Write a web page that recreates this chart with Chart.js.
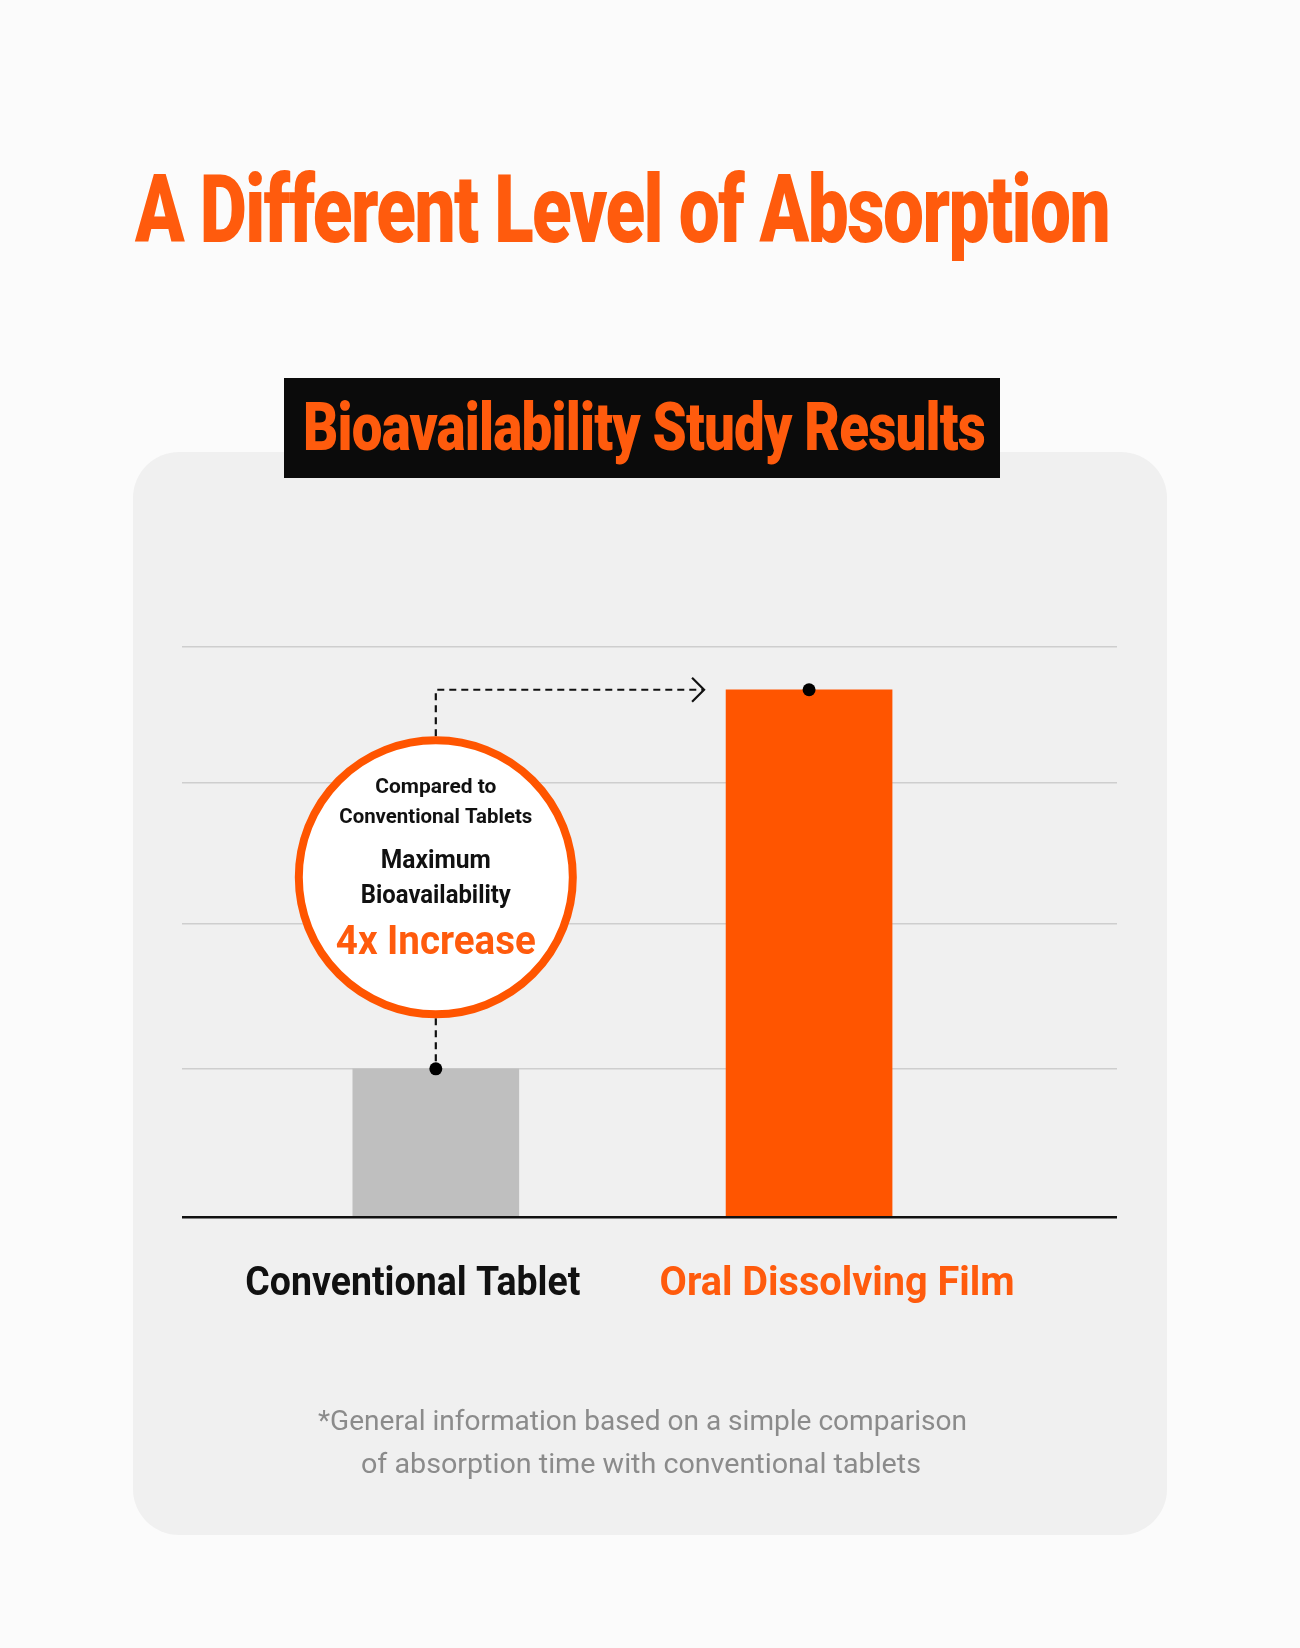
<!DOCTYPE html>
<html>
<head>
<meta charset="utf-8">
<script src="https://cdn.jsdelivr.net/npm/chart.js@4.4.1/dist/chart.umd.min.js"></script>
<style>
  html, body { margin: 0; padding: 0; }
  body { width: 1300px; height: 1648px; background: #fbfbfb; position: relative; overflow: hidden; font-family: Roboto, "Liberation Sans", sans-serif; }
  .card { position: absolute; left: 133px; top: 452px; width: 1034px; height: 1083px; background: #f0f0f0; border-radius: 46px; }
  #chartWrap { position: absolute; left: 133px; top: 452px; width: 1034px; height: 1083px; }
  .box { position: absolute; left: 284px; top: 378px; width: 716px; height: 100px; background: #0b0b0b; z-index: 2; }
  .txt { position: absolute; white-space: nowrap; transform-origin: 0 0; z-index: 3; }
</style>
</head>
<body>
<div class="card"></div>
<div id="chartWrap"><canvas id="chart" width="1034" height="1083"></canvas></div>
<div class="box"></div>
<script>
const pageTitle = "A Different Level of Absorption";
const boxTitle = "Bioavailability Study Results";
const categories = ["Conventional Tablet", "Oral Dissolving Film"];
const values = [1.04, 3.7];
// grid lines (slightly uneven)
const yTicks = [0, 1.04, 2.06, 3.05, 4];
const calloutLines = ["Compared to", "Conventional Tablets", "Maximum", "Bioavailability", "4x Increase"];
const footnoteLines = [
  "*General information based on a simple comparison",
  "of absorption time with conventional tablets",
];

const ORANGE = "#ff5500";
const TEXT_ORANGE = "#ff5b0d";

// html text, squeezed to a given width, placed by its baseline
const placeText = (text, o) => {
  const s = document.createElement("span");
  s.className = "txt";
  s.style.font = `${o.weight} ${o.size}px Roboto`;
  s.style.color = o.color;
  if (o.spacing) s.style.letterSpacing = o.spacing + "px";
  s.textContent = text;
  const probe = document.createElement("span");
  probe.style.cssText = "display:inline-block;width:0;height:0;vertical-align:baseline";
  s.appendChild(probe);
  s.style.left = "0px";
  s.style.top = "0px";
  document.body.appendChild(s);
  const w = s.getBoundingClientRect().width;
  const base = probe.getBoundingClientRect().top;
  s.style.left = o.center - o.width / 2 + "px";
  s.style.top = o.baseline - base + "px";
  s.style.transform = `scaleX(${o.width / w})`;
};

// canvas text, same idea
const drawFit = (ctx, text, cx, baseline, width, font, color) => {
  ctx.save();
  ctx.font = font;
  ctx.fillStyle = color;
  ctx.textAlign = "left";
  ctx.textBaseline = "alphabetic";
  const w = ctx.measureText(text).width;
  ctx.translate(cx - width / 2, baseline);
  ctx.scale(width / w, 1);
  ctx.fillText(text, 0, 0);
  ctx.restore();
};

const labelWidths = [335, 355];
const labelNudge = [-23, 28];
const labelColors = ["#111111", TEXT_ORANGE];

const categoryLabels = {
  id: "categoryLabels",
  afterDraw(chart) {
    const x = chart.scales.x;
    categories.forEach((c, i) => {
      drawFit(chart.ctx, c, x.getPixelForValue(i + 1) + labelNudge[i], chart.chartArea.bottom + 78,
        labelWidths[i], "bold 40px Roboto", labelColors[i]);
    });
  },
};

// circle callout with dashed connector and arrow
const callout = {
  id: "callout",
  afterDraw(chart) {
    const ctx = chart.ctx;
    const bars = chart.getDatasetMeta(0).data;
    const a = bars[0];
    const b = bars[1];
    const r = 137;
    const cx = a.x;
    const cy = (a.y + b.y) / 2 - 2;
    const tip = b.x - b.width / 2 - 22;

    ctx.save();
    ctx.strokeStyle = "#111";
    ctx.lineWidth = 2.2;
    ctx.setLineDash([7, 5]);
    ctx.beginPath();
    ctx.moveTo(cx, cy - r - 4);
    ctx.lineTo(cx, b.y);
    ctx.lineTo(tip, b.y);
    ctx.moveTo(cx, cy + r + 4);
    ctx.lineTo(cx, a.y);
    ctx.stroke();
    ctx.setLineDash([]);
    ctx.beginPath();
    ctx.moveTo(tip - 12, b.y - 12);
    ctx.lineTo(tip, b.y);
    ctx.lineTo(tip - 12, b.y + 12);
    ctx.stroke();

    ctx.beginPath();
    ctx.arc(cx, cy, r, 0, Math.PI * 2);
    ctx.fillStyle = "#ffffff";
    ctx.fill();
    ctx.lineWidth = 8;
    ctx.strokeStyle = ORANGE;
    ctx.stroke();

    ctx.fillStyle = "#000";
    [a, b].forEach((bar) => {
      ctx.beginPath();
      ctx.arc(bar.x, bar.y, 6.5, 0, Math.PI * 2);
      ctx.fill();
    });
    ctx.restore();

    const offs = [-84, -54, -9, 26, 77];
    const widths = [121, 193, 110, 150, 200];
    const fonts = ["bold 21px Roboto", "bold 21px Roboto", "bold 26px Roboto", "bold 26px Roboto", "bold 40px Roboto"];
    calloutLines.forEach((t, i) => {
      drawFit(ctx, t, cx, cy + offs[i], widths[i], fonts[i], i === 4 ? TEXT_ORANGE : "#111111");
    });
  },
};

document.addEventListener("DOMContentLoaded", () => {
  const canvas = document.getElementById("chart");

  new Chart(canvas.getContext("2d"), {
    type: "bar",
    data: {
      datasets: [
        {
          data: categories.map((c, i) => ({ x: i + 1, y: values[i] })),
          backgroundColor: ["#bfbfbf", ORANGE],
          barThickness: 166,
          borderWidth: 0,
        },
      ],
    },
    options: {
      responsive: false,
      animation: false,
      layout: { padding: { left: 49, right: 50, top: 195, bottom: 318 } },
      plugins: { legend: { display: false }, tooltip: { enabled: false } },
      scales: {
        x: {
          type: "linear",
          offset: false,
          min: 0.32,
          max: 2.825,
          afterBuildTicks: (axis) => {
            axis.ticks = categories.map((c, i) => ({ value: i + 1 }));
          },
          ticks: { display: false },
          grid: { display: false, drawTicks: false },
          border: { display: false },
        },
        y: {
          min: 0,
          max: 4,
          z: 1,
          afterBuildTicks: (axis) => {
            axis.ticks = yTicks.map((v) => ({ value: v }));
          },
          ticks: { display: false },
          grid: {
            drawTicks: false,
            color: (c) => (c.tick && c.tick.value === 0 ? "#111111" : "rgba(0,0,0,0.14)"),
            lineWidth: (c) => (c.tick && c.tick.value === 0 ? 2.5 : 1.5),
          },
          border: { display: false },
        },
      },
    },
    plugins: [categoryLabels, callout],
  });

  placeText(pageTitle, { center: 622, width: 974, baseline: 242, size: 94, weight: 900, color: TEXT_ORANGE, spacing: -2 });
  placeText(boxTitle, { center: 644, width: 682, baseline: 450, size: 66, weight: 900, color: TEXT_ORANGE, spacing: -1 });
  placeText(footnoteLines[0], { center: 642, width: 649, baseline: 1430, size: 27, weight: 400, color: "#8b8b8b" });
  placeText(footnoteLines[1], { center: 641, width: 560, baseline: 1473, size: 27, weight: 400, color: "#8b8b8b" });
});
</script>
</body>
</html>
